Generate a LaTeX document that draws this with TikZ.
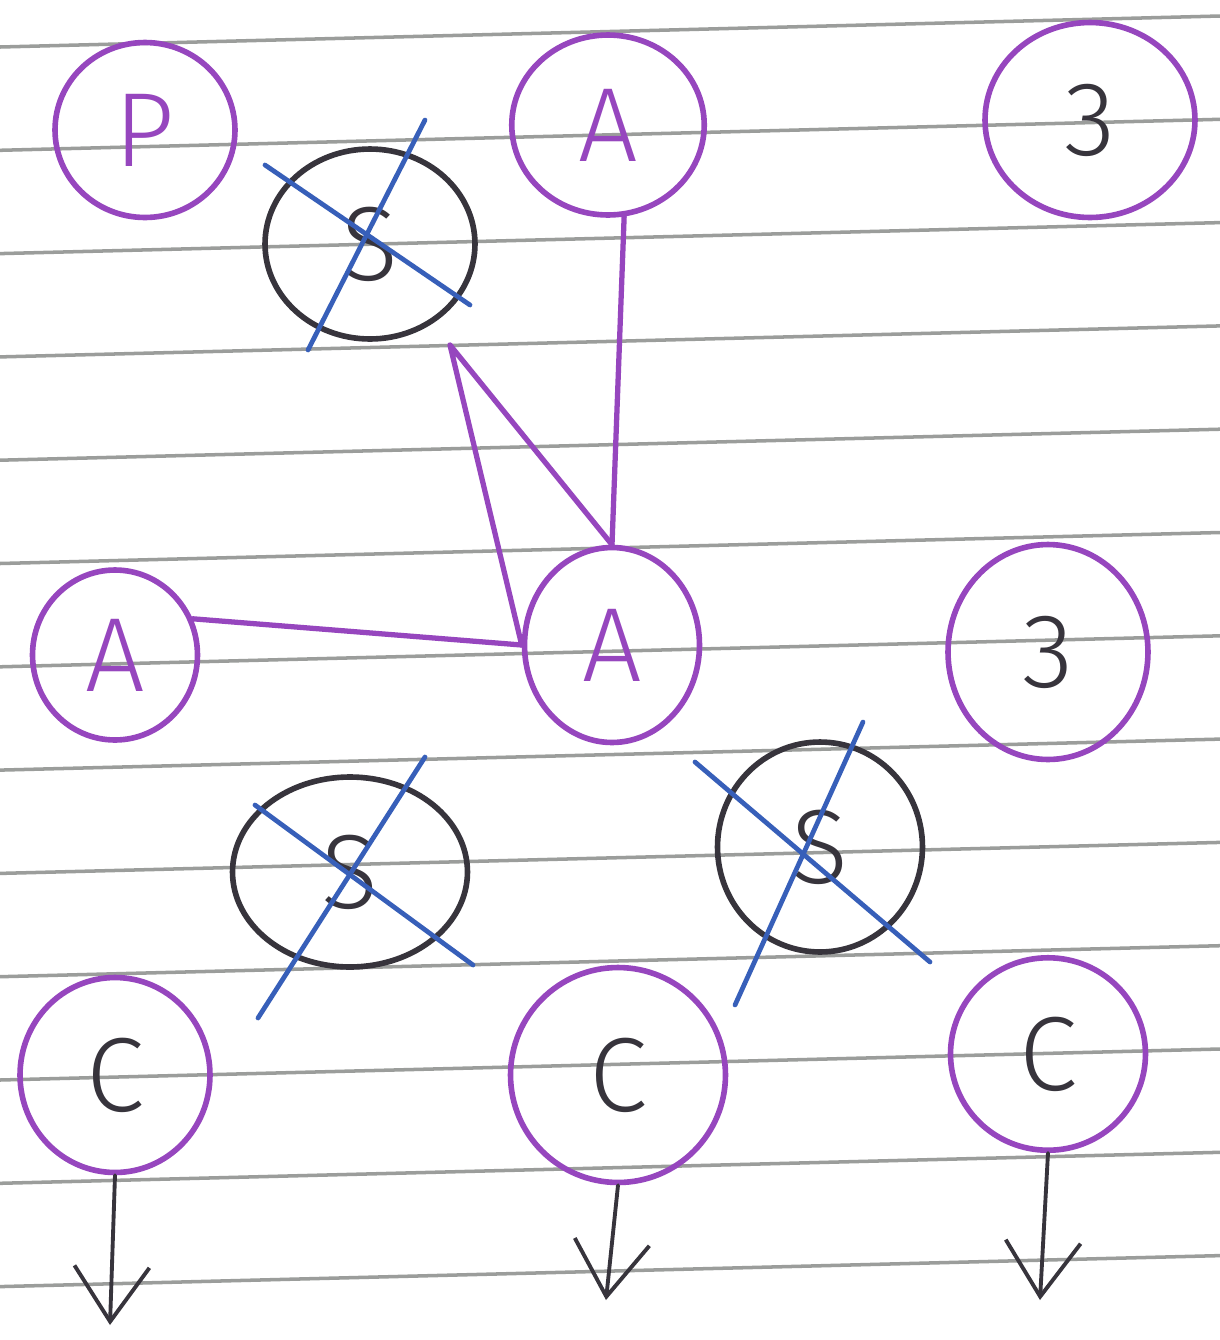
\documentclass[tikz,border=0pt]{standalone}
\usepackage{fontspec}
\newfontfamily\handfont{Fira Sans Light}
\usetikzlibrary{arrows.meta,shapes.geometric}
\definecolor{inkpurple}{RGB}{150,70,190}
\definecolor{inkblack}{RGB}{55,52,60}
\definecolor{inkblue}{RGB}{55,95,185}
\definecolor{ruleline}{RGB}{155,157,155}
\tikzset{
	ring/.style={ellipse, draw=inkpurple, line width=3.2pt, inner sep=0pt,
		font=\handfont\fontsize{60}{60}\selectfont},
	crossring/.style={ring, draw=inkblack, text=inkblack},
	link/.style={inkpurple, line width=3pt, line cap=round, line join=round},
	strike/.style={inkblue, line width=2.7pt, line cap=round},
	drop/.style={inkblack, line width=2.2pt,
		-{Straight Barb[length=1.1cm, width=1.5cm, line width=2.2pt]}},
}
\begin{document}
\begin{tikzpicture}[x=0.02cm, y=-0.02cm, line cap=round]
			% Khung giấy (tọa độ tính theo điểm ảnh)
			\useasboundingbox (0,0) rectangle (1220,1340);
			\fill[white] (0,0) rectangle (1220,1340);
			
			% Dòng kẻ của vở
			\foreach \i in {0,...,12}
			\draw[ruleline, line width=2pt] (0,{47+103.3*\i}) -- (1220,{16+103.3*\i});
			
			% Hàng trên
			\node[ring, text=inkpurple, minimum width=3.6cm, minimum height=3.5cm] (p) at (145,130) {P};
			\node[ring, text=inkpurple, minimum width=3.85cm, minimum height=3.6cm] (atop) at (608,125) {A};
			\node[ring, text=inkblack, minimum width=4.2cm, minimum height=3.9cm] (three1) at (1090,120) {3};
			\node[crossring, minimum width=4.2cm, minimum height=3.8cm] (s1) at (370,244) {S};
			
			% Hàng giữa
			\node[ring, text=inkpurple, minimum width=3.3cm, minimum height=3.4cm] (aleft) at (115,655) {A};
			\node[ring, text=inkpurple, minimum width=3.5cm, minimum height=3.9cm] (amid) at (612,645) {A};
			\node[ring, text=inkblack, minimum width=4cm, minimum height=4.3cm] (three2) at (1048,652) {3};
			\node[crossring, minimum width=4.7cm, minimum height=3.8cm] (s2) at (350,872) {S};
			\node[crossring, minimum width=4.1cm, minimum height=4.2cm] (s3) at (820,847) {S};
			
			% Hàng dưới
			\node[ring, text=inkblack, minimum width=3.8cm, minimum height=3.9cm] (c1) at (115,1075) {C};
			\node[ring, text=inkblack, minimum width=4.3cm, minimum height=4.3cm] (c2) at (618,1075) {C};
			\node[ring, text=inkblack, minimum width=3.9cm, minimum height=3.85cm] (c3) at (1048,1054) {C};
			
			% Các đường nối
			\coordinate (tip) at (450,345);
			\draw[link] (atop.-80) -- (amid.north);
			\draw[link] (amid.north) -- (tip) -- (amid.west);
			\draw[link] (aleft.25) -- (amid.west);
			
			% Gạch chéo các vòng S
			\draw[strike] (265,165) -- (470,305);
			\draw[strike] (425,120) -- (308,350);
			\draw[strike] (255,805) -- (473,965);
			\draw[strike] (425,757) -- (258,1018);
			\draw[strike] (695,762) -- (930,962);
			\draw[strike] (863,722) -- (735,1005);
			
			% Mũi tên đi xuống
			\coordinate (c1end) at (110,1325);
			\coordinate (c2end) at (606,1300);
			\coordinate (c3end) at (1040,1300);
			\draw[drop] (c1.south) -- (c1end);
			\draw[drop] (c2.south) -- (c2end);
			\draw[drop] (c3.south) -- (c3end);
		\end{tikzpicture}
\end{document}
